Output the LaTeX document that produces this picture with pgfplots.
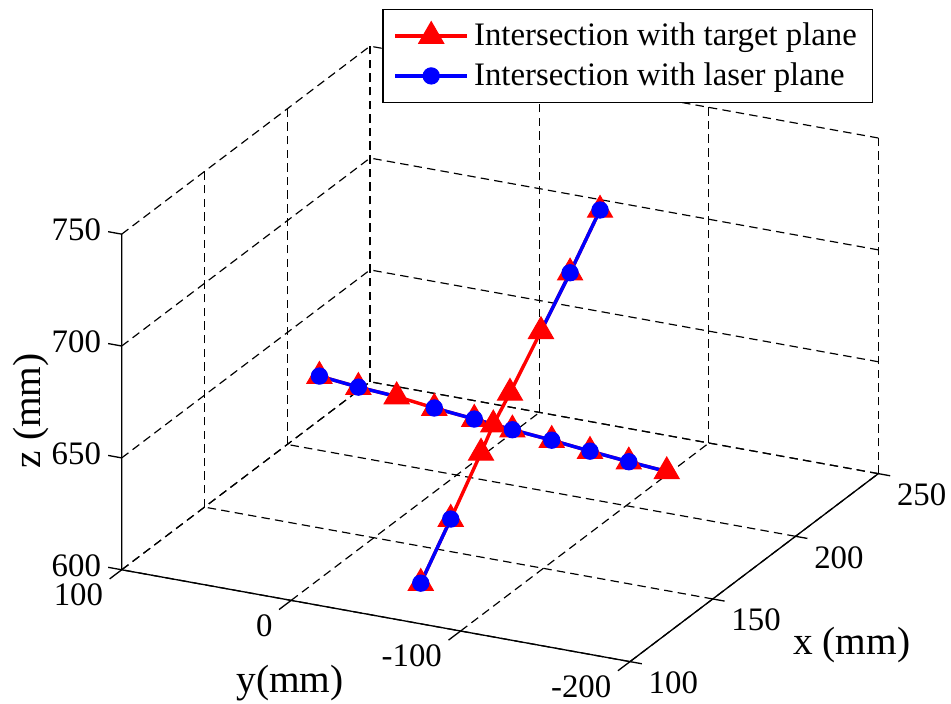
\documentclass[border=0pt]{standalone}
\usepackage{fontspec}
\setmainfont{Liberation Serif}
\usepackage{pgfplots}
\pgfplotsset{compat=1.18}
\begin{document}
\begin{tikzpicture}[font=\fontsize{12.5}{15}\selectfont]
\begin{axis}[
  name=ax,
  view={-63.96}{31.94},
  scale only axis,
  width=288.4pt, height=234.6pt,
  xmin=100,xmax=250,ymin=-200,ymax=100,zmin=600,zmax=750,
  xtick={100,150,200,250}, xticklabels={100,150,200,250},
  ytick={-200,-100,0,100}, yticklabels={-200,-100,0,100},
  ztick={600,650,700,750}, zticklabels={600,650,700,750},
  grid=major,
  grid style={black, line width=0.45pt, dash pattern=on 3.2pt off 2pt},
  axis line style={draw=none},
  major tick length=0pt,
  clip=false,
  xticklabel style={anchor=west, xshift=3.6pt, yshift=-8pt},
  yticklabel style={anchor=north east, xshift=-3.6pt, yshift=-1.8pt},
  zticklabel style={anchor=east, xshift=-4.4pt, yshift=1.6pt},
  legend style={at={(axis description cs:0.9935,1.0606)}, anchor=north east,
    draw=black, line width=0.6pt, inner xsep=4pt, inner ysep=3pt,
    font=\fontsize{12.5}{15}\selectfont, row sep=1pt},
  legend cell align=left,
  legend image code/.code={\draw[mark repeat=2,mark phase=2,#1] plot coordinates {(0pt,0pt)(13.7pt,0pt)(27.4pt,0pt)};},
]
\addlegendimage{red, line width=1.3pt, mark=triangle*, mark size=5.5pt, mark options={solid, fill=red, draw=red, line width=0.4pt}}
\addlegendentry{Intersection with target plane}
\addlegendimage{blue, line width=1.3pt, mark=*, mark size=3.1pt, mark options={solid, fill=blue, draw=blue, line width=0.4pt}}
\addlegendentry{Intersection with laser plane}

% solid axis lines
\draw[black, line width=0.5pt] (axis cs:100,100,750) -- (axis cs:100,100,600) -- (axis cs:100,-200,600) -- (axis cs:250,-200,600);
% tick marks
\draw[black, line width=0.5pt] (axis cs:100,100,600) -- (axis cs:100,108,600);
\draw[black, line width=0.5pt] (axis cs:100,100,650) -- (axis cs:100,108,650);
\draw[black, line width=0.5pt] (axis cs:100,100,700) -- (axis cs:100,108,700);
\draw[black, line width=0.5pt] (axis cs:100,100,750) -- (axis cs:100,108,750);
\draw[black, line width=0.5pt] (axis cs:100,-200,600) -- (axis cs:92.7,-200,600);
\draw[black, line width=0.5pt] (axis cs:100,-100,600) -- (axis cs:92.7,-100,600);
\draw[black, line width=0.5pt] (axis cs:100,0,600) -- (axis cs:92.7,0,600);
\draw[black, line width=0.5pt] (axis cs:100,100,600) -- (axis cs:92.7,100,600);
\draw[black, line width=0.5pt] (axis cs:100,-200,600) -- (axis cs:100,-207,600);
\draw[black, line width=0.5pt] (axis cs:150,-200,600) -- (axis cs:150,-207,600);
\draw[black, line width=0.5pt] (axis cs:200,-200,600) -- (axis cs:200,-207,600);
\draw[black, line width=0.5pt] (axis cs:250,-200,600) -- (axis cs:250,-207,600);

% red: target plane
\addplot3[forget plot, red, line width=1.3pt, mark=triangle*, mark size=5.5pt, mark options={fill=red, draw=red, line width=0.4pt}] coordinates {
(175,56.6,650.5) (175,33.6,648.7) (175,11.0,647.6) (175,-11.2,645.5) (175,-34.8,643.8)
(175,-57.3,642.1) (175,-80.5,640.6) (175,-103.1,638.8) (175,-126.0,637.2) (175,-148.4,635.9)};
\addplot3[forget plot, red, line width=1.3pt, mark=triangle*, mark size=5.5pt, mark options={fill=red, draw=red, line width=0.4pt}] coordinates {
(126.2,-50.9,600.0) (144.3,-50.9,618.5) (162.6,-50.9,637.8) (170.0,-50.9,646.3)
(180.1,-50.9,654.8) (198.8,-50.9,671.9) (216.4,-50.9,688.2) (234.5,-50.9,706.1)};

% blue: laser plane (line pieces)
\addplot3[forget plot, blue, line width=1.3pt, no marks] coordinates {(126.2,-50.9,600.0) (144.3,-50.9,618.5)};
\addplot3[forget plot, blue, line width=1.3pt, no marks] coordinates {(198.8,-50.9,671.9) (216.4,-50.9,688.2) (234.5,-50.9,706.1)};
\addplot3[forget plot, blue, line width=1.3pt, no marks] coordinates {(175,56.6,650.5) (175,33.6,648.7) (175,11.0,647.6)};
\addplot3[forget plot, blue, line width=1.3pt, no marks] coordinates {
(175,-11.2,645.5) (175,-34.8,643.8) (175,-57.3,642.1) (175,-80.5,640.6) (175,-103.1,638.8) (175,-126.0,637.2) (175,-148.4,635.9)};
% blue markers
\addplot3[forget plot, only marks, mark=*, mark size=3.1pt, mark options={fill=blue, draw=blue, line width=0.4pt}] coordinates {
(126.2,-50.9,600.0) (144.3,-50.9,618.5) (216.4,-50.9,688.2) (234.5,-50.9,706.1)
(175,56.6,650.5) (175,33.6,648.7)
(175,-11.2,645.5) (175,-34.8,643.8) (175,-57.3,642.1) (175,-80.5,640.6) (175,-103.1,638.8) (175,-126.0,637.2)};

% axis labels
\node[rotate=90, font=\fontsize{15}{18}\selectfont] at (axis description cs:-0.1197,0.4077) {z (mm)};
\node[font=\fontsize{15}{18}\selectfont] at (axis description cs:0.2223,-0.0341) {y(mm)};
\node[font=\fontsize{15}{18}\selectfont] at (axis description cs:0.9647,0.0276) {x (mm)};

\coordinate (BL) at (axis description cs:0,0);
\coordinate (TR) at (axis description cs:1,1);
\end{axis}
\pgfresetboundingbox
\path[use as bounding box] ([xshift=-46.4pt,yshift=-16pt]BL) rectangle ([xshift=27.7pt,yshift=17.6pt]TR);
\end{tikzpicture}
\end{document}
